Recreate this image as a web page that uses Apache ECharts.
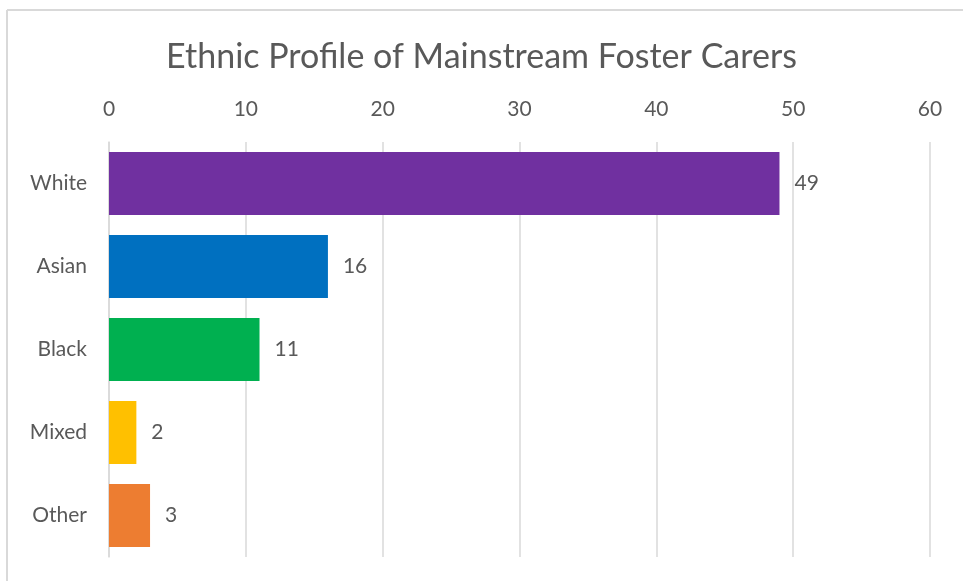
<!DOCTYPE html>
<html>
<head>
<meta charset="utf-8">
<script src="https://cdn.jsdelivr.net/npm/echarts@6/dist/echarts.min.js"></script>
<style>
  html, body { margin: 0; padding: 0; background: #fff; }
  #chart { width: 963px; height: 581px; }
</style>
</head>
<body>
<div id="chart"></div>
<script>
// data
let categories = ['White', 'Asian', 'Black', 'Mixed', 'Other']
let values = [49, 16, 11, 2, 3]
let barColors = ['#7030A0', '#0070C0', '#00B050', '#FFC000', '#ED7D31']
let tickMax = 60
let tickStep = 10

let font = 'Lato, "Open Sans", sans-serif'
let textColor = '#595959'

let myChart = echarts.init(document.getElementById('chart'))
myChart.setOption({
    animation: false,
    title: {
        text: 'Ethnic Profile of Mainstream Foster Carers',
        left: 'center',
        top: 35,
        textStyle: { fontFamily: font, fontSize: 34, fontWeight: 'normal', color: textColor }
    },
    grid: { left: 109, right: 33, top: 142, bottom: 24 },
    xAxis: {
        type: 'value',
        position: 'top',
        min: 0,
        max: tickMax,
        interval: tickStep,
        axisLine: { show: false },
        axisTick: { show: false },
        axisLabel: { fontFamily: font, fontSize: 21, color: textColor, margin: 22 },
        splitLine: { lineStyle: { color: '#d9d9d9', width: 1.5 } }
    },
    yAxis: {
        type: 'category',
        inverse: true,
        data: categories,
        axisLine: { show: true, lineStyle: { color: '#d9d9d9', width: 1.5 } },
        axisTick: { show: false },
        axisLabel: { fontFamily: font, fontSize: 21, color: textColor, margin: 22 }
    },
    series: [{
        type: 'bar',
        barCategoryGap: '24%',
        data: values.map((v, i) => ({ value: v, itemStyle: { color: barColors[i] } })),
        label: {
            show: true,
            position: 'right',
            distance: 15,
            fontFamily: font,
            fontSize: 21,
            color: textColor
        }
    }],
    graphic: [
        { type: 'line', shape: { x1: 7, y1: 10, x2: 963, y2: 10 }, style: { stroke: '#d9d9d9', lineWidth: 2 } },
        { type: 'line', shape: { x1: 7, y1: 10, x2: 7, y2: 581 }, style: { stroke: '#d9d9d9', lineWidth: 2 } }
    ]
})
</script>
</body>
</html>
